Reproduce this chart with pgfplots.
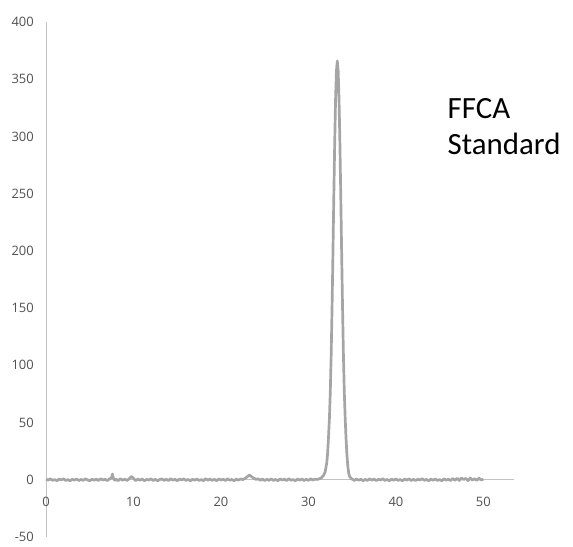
\documentclass[border=0pt]{standalone}
\usepackage{fontspec}
\usepackage{pgfplots}
\pgfplotsset{compat=1.18}
\newfontfamily\ticksfont{Open Sans}
\newfontfamily\labelfont{Carlito}
\definecolor{linegray}{RGB}{165,165,165}
\definecolor{axisgray}{RGB}{195,195,195}
\definecolor{tickgray}{RGB}{80,80,80}

\begin{document}
\begin{tikzpicture}
\begin{axis}[
    name=ax,
    scale only axis,
    width=468bp, height=515bp,
    xmin=0, xmax=53.5,
    ymin=-50, ymax=400,
    axis x line=middle,
    axis y line=left,
    axis line style={-, draw=axisgray, line width=0.8pt},
    xtick={0,10,20,30,40,50},
    ytick={-50,0,50,100,150,200,250,300,350,400},
    major tick length=0pt,
    hide obscured x ticks=false,
    hide obscured y ticks=false,
    /pgf/number format/assume math mode=true,
    tick label style={font=\fontsize{13}{13}\selectfont\ticksfont, text=tickgray},
    xticklabel style={anchor=north, inner sep=0pt, yshift=-17bp},
    yticklabel style={anchor=east, inner sep=0pt, xshift=-12bp},
    clip=false,
]
\addplot[color=linegray, line width=2.7pt, line join=round] coordinates {
    (0,0.5) (0.25,-0.3) (0.5,0.8) (0.75,-0.5) (1,0.2) (1.25,-0.8) (1.5,0.6) (1.75,-0.2)
    (2,0.9) (2.25,-0.6) (2.5,0.1) (2.75,-0.9) (3,0.4) (3.25,-0.3) (3.5,0.7) (3.75,-0.7)
    (4,0.3) (4.25,-0.5) (4.5,0.8) (4.75,-0.1) (5,-0.9) (5.25,0.5) (5.5,-0.4) (5.75,0.6)
    (6,-0.6) (6.25,0.9) (6.5,-0.2) (6.75,0.4) (7,-0.7) (7.25,0.7) (7.5,1.8) (7.6,5.0)
    (7.7,1.5) (7.85,-0.4) (8,0.6) (8.25,-0.8) (8.5,0.9) (8.75,-0.3) (9,0.5) (9.25,-0.6)
    (9.5,0.8) (9.75,2.8) (9.9,2.2) (10.1,0.4) (10.25,-0.7) (10.5,0.6) (10.75,-0.4) (11,0.7)
    (11.25,-0.8) (11.5,0.3) (11.75,-0.2) (12,0.8) (12.25,-0.6) (12.5,0.4) (12.75,-0.9) (13,0.2)
    (13.25,0.7) (13.5,-0.5) (13.75,0.5) (14,-0.7) (14.25,0.9) (14.5,-0.3) (14.75,0.4) (15,-0.8)
    (15.25,0.6) (15.5,-0.2) (15.75,0.8) (16,-0.6) (16.25,0.3) (16.5,-0.9) (16.75,0.5) (17,-0.4)
    (17.25,0.7) (17.5,-0.6) (17.75,0.2) (18,-0.8) (18.25,0.9) (18.5,-0.3) (18.75,0.6) (19,-0.5)
    (19.25,0.4) (19.5,-0.8) (19.75,0.7) (20,-0.2) (20.25,0.5) (20.5,-0.7) (20.75,0.8) (21,-0.4)
    (21.25,0.3) (21.5,-0.9) (21.75,0.6) (22,-0.3) (22.25,0.7) (22.5,0.2) (22.75,1.2) (23,2.6)
    (23.25,4.2) (23.5,2.7) (23.75,1.4) (24,0.3) (24.25,0.9) (24.5,-0.4) (24.75,0.6) (25,-0.7)
    (25.25,0.4) (25.5,-0.5) (25.75,0.8) (26,-0.6) (26.25,0.3) (26.5,-0.8) (26.75,0.7) (27,-0.2)
    (27.25,0.5) (27.5,-0.7) (27.75,0.9) (28,-0.4) (28.25,0.2) (28.5,-0.8) (28.75,0.6) (29,-0.3)
    (29.25,0.7) (29.5,-0.6) (29.75,0.4) (30,-0.5) (30.25,0.8) (30.5,-0.2) (30.75,0.5) (31,0.3)
    (31.3,1.0) (31.5,1.9) (31.7,3.6) (31.9,6.5) (32.1,15) (32.2,24) (32.3,38) (32.4,54)
    (32.5,77) (32.6,109) (32.7,150) (32.8,197) (32.9,247) (33.0,293) (33.1,332) (33.2,357)
    (33.3,366) (33.4,357) (33.5,332) (33.6,293) (33.7,247) (33.8,197) (33.9,150) (34.0,109)
    (34.1,77) (34.2,54) (34.3,36) (34.4,22) (34.5,12) (34.6,6) (34.7,3) (34.9,1.0)
    (35.1,0.2) (35.25,-0.6) (35.5,0.7) (35.75,-0.4) (36,0.5) (36.25,-0.8) (36.5,0.3) (36.75,-0.5)
    (37,0.8) (37.25,-0.3) (37.5,0.6) (37.75,-0.7) (38,0.4) (38.25,-0.2) (38.5,0.9) (38.75,-0.6)
    (39,0.3) (39.25,-0.8) (39.5,0.5) (39.75,-0.4) (40,0.7) (40.25,-0.5) (40.5,0.2) (40.75,-0.9)
    (41,0.6) (41.25,-0.3) (41.5,0.8) (41.75,-0.6) (42,0.4) (42.25,-0.7) (42.5,0.5) (42.75,-0.2)
    (43,0.9) (43.25,-0.5) (43.5,0.3) (43.75,-0.8) (44,0.6) (44.25,-0.4) (44.5,0.7) (44.75,-0.6)
    (45,0.2) (45.25,-0.9) (45.5,0.8) (45.75,-0.3) (46,0.5) (46.25,-0.7) (46.5,1.1) (46.75,-0.4)
    (47,1.3) (47.25,-0.6) (47.5,1.5) (47.75,0.2) (48,1.2) (48.25,-0.8) (48.5,1.6) (48.75,-0.3)
    (49,1.0) (49.25,-0.5) (49.5,1.4) (49.75,-0.2) (50,0.6)
};
\node[anchor=base west, inner sep=0pt, font=\fontsize{31}{31}\selectfont\labelfont, text=black]
    at (axis cs:45.9,316) {FFCA};
\node[anchor=base west, inner sep=0pt, font=\fontsize{31}{31}\selectfont\labelfont, text=black]
    at (axis cs:45.9,283.8) {Standard};
\end{axis}
\pgfresetboundingbox
\path ([xshift=-46bp,yshift=-10bp]ax.south west) rectangle ([xshift=59bp,yshift=22bp]ax.north east);
\end{tikzpicture}
\end{document}
